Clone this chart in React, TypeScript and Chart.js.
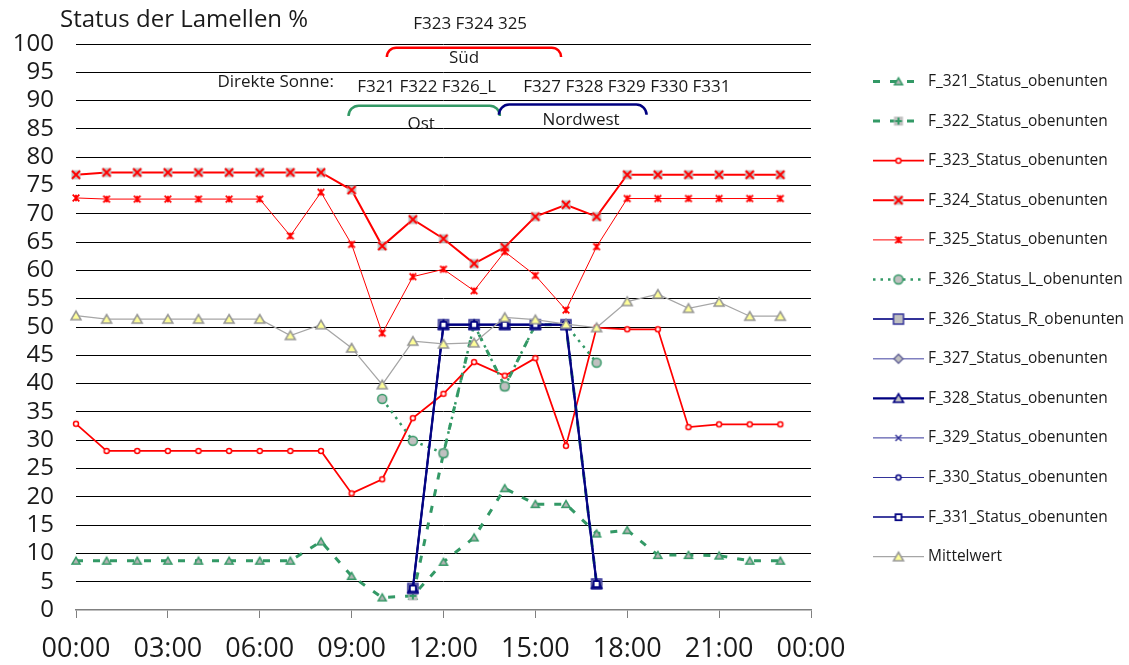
import React, { useEffect, useRef } from 'react';
import { Chart, registerables } from 'chart.js';

Chart.register(...registerables);

const FONT = '"Open Sans", "Noto Sans", Arial, sans-serif';
const TEXT = '#1a1a1a';

// Hour of day for each reading (00:00 … 23:00)
const hours = [0, 1, 2, 3, 4, 5, 6, 7, 8, 9, 10, 11, 12, 13, 14, 15, 16, 17, 18, 19, 20, 21, 22, 23];

// Slat status per façade element, in percent
const f321 = [8.7, 8.7, 8.7, 8.7, 8.7, 8.7, 8.7, 8.7, 12.1, 6.0, 2.2, 2.5, 8.5, 12.8, 21.5, 18.7, 18.7, 13.5, 14.1, 9.7, 9.7, 9.6, 8.7, 8.7];
const f322 = [null, null, null, null, null, null, null, null, null, null, null, 2.5, 27.7, 50.4, 39.5, 50.4, 50.4, 4.6, null, null, null, null, null, null];
const f323 = [32.9, 28.1, 28.1, 28.1, 28.1, 28.1, 28.1, 28.1, 28.1, 20.6, 23.1, 33.9, 38.2, 43.8, 41.4, 44.5, 29.0, 49.9, 49.6, 49.6, 32.3, 32.8, 32.8, 32.8];
const f324 = [76.9, 77.3, 77.3, 77.3, 77.3, 77.3, 77.3, 77.3, 77.3, 74.2, 64.3, 69.0, 65.6, 61.2, 64.1, 69.5, 71.6, 69.5, 76.9, 76.9, 76.9, 76.9, 76.9, 76.9];
const f325 = [72.8, 72.6, 72.6, 72.6, 72.6, 72.6, 72.6, 66.1, 73.8, 64.6, 48.9, 58.9, 60.2, 56.4, 63.3, 59.1, 53.0, 64.2, 72.7, 72.7, 72.7, 72.7, 72.7, 72.7];
const f326L = [null, null, null, null, null, null, null, null, null, null, 37.3, 29.9, 27.7, 50.4, 39.5, 50.4, 50.4, 43.7, null, null, null, null, null, null];
const f326R = [null, null, null, null, null, null, null, null, null, null, null, 3.8, 50.4, 50.4, 50.4, 50.4, 50.4, 4.6, null, null, null, null, null, null];
const f327 = [null, null, null, null, null, null, null, null, null, null, null, 3.8, 50.4, 50.4, 50.4, 50.4, 50.4, 4.6, null, null, null, null, null, null];
const f328 = [null, null, null, null, null, null, null, null, null, null, null, 3.8, 50.4, 50.4, 50.4, 50.4, 50.4, 4.6, null, null, null, null, null, null];
const f329 = [null, null, null, null, null, null, null, null, null, null, null, 3.8, 50.4, 50.4, 50.4, 50.4, 50.4, 4.6, null, null, null, null, null, null];
const f330 = [null, null, null, null, null, null, null, null, null, null, null, 3.8, 50.4, 50.4, 50.4, 50.4, 50.4, 4.6, null, null, null, null, null, null];
const f331 = [null, null, null, null, null, null, null, null, null, null, null, 3.8, 50.4, 50.4, 50.4, 50.4, 50.4, 4.6, null, null, null, null, null, null];
const mittelwert = [52.0, 51.4, 51.4, 51.4, 51.4, 51.4, 51.4, 48.5, 50.4, 46.3, 39.8, 47.5, 47.0, 47.2, 51.7, 51.3, 50.5, 49.9, 54.5, 55.8, 53.3, 54.4, 51.9, 51.9];

const seriesLabels = [
  'F_321_Status_obenunten',
  'F_322_Status_obenunten',
  'F_323_Status_obenunten',
  'F_324_Status_obenunten',
  'F_325_Status_obenunten',
  'F_326_Status_L_obenunten',
  'F_326_Status_R_obenunten',
  'F_327_Status_obenunten',
  'F_328_Status_obenunten',
  'F_329_Status_obenunten',
  'F_330_Status_obenunten',
  'F_331_Status_obenunten',
  'Mittelwert',
];

// Axis ticks
const hourTicks = [0, 3, 6, 9, 12, 15, 18, 21, 24];
const percentTicks = [0, 5, 10, 15, 20, 25, 30, 35, 40, 45, 50, 55, 60, 65, 70, 75, 80, 85, 90, 95, 100];

// Text notes above the curves (hour / percent anchors)
const notes = [
  { text: 'F323 F324 325', h: 12.87, v: 102.6, align: 'center' },
  { text: 'Süd', h: 12.67, v: 96.6, align: 'center' },
  { text: 'Direkte Sonne:', h: 8.42, v: 92.35, align: 'right' },
  { text: 'F321 F322 F326_L', h: 9.18, v: 91.5, align: 'left' },
  { text: 'F327 F328 F329 F330 F331', h: 14.6, v: 91.5, align: 'left' },
  { text: 'Ost', h: 11.27, v: 85.0, align: 'center' },
  { text: 'Nordwest', h: 16.49, v: 85.7, align: 'center' },
];

// Curly group brackets (hour range, percent of top bar and of the bent ends)
const brackets = [
  { from: 10.15, to: 15.84, top: 99.35, end: 97.7, color: '#FF0000' },
  { from: 8.9, to: 13.84, top: 89.1, end: 87.3, color: '#339966' },
  { from: 13.81, to: 18.63, top: 89.3, end: 87.5, color: '#000080' },
];

type MarkerKind = 'triangle' | 'circle' | 'square' | 'diamond' | 'x' | 'asterisk' | 'squarePlus' | 'squareX';
interface Marker { kind: MarkerKind; r: number; fill?: string; stroke: string; lw: number; }

function markerCanvas(m: Marker): HTMLCanvasElement {
  const size = 18;
  const c = document.createElement('canvas');
  c.width = size;
  c.height = size;
  const g = c.getContext('2d')!;
  g.translate(size / 2, size / 2);
  g.lineWidth = m.lw;
  g.strokeStyle = m.stroke;
  g.fillStyle = m.fill || 'rgba(0,0,0,0)';
  const r = m.r;
  g.beginPath();
  switch (m.kind) {
    case 'triangle':
      g.moveTo(0, -r * 0.9);
      g.lineTo(r, r * 0.8);
      g.lineTo(-r, r * 0.8);
      g.closePath();
      g.fill();
      g.stroke();
      break;
    case 'circle':
      g.arc(0, 0, r, 0, Math.PI * 2);
      g.fill();
      g.stroke();
      break;
    case 'square':
      g.rect(-r, -r, 2 * r, 2 * r);
      g.fill();
      g.stroke();
      break;
    case 'diamond':
      g.moveTo(0, -r);
      g.lineTo(r, 0);
      g.lineTo(0, r);
      g.lineTo(-r, 0);
      g.closePath();
      g.fill();
      g.stroke();
      break;
    case 'x':
      g.moveTo(-r, -r); g.lineTo(r, r);
      g.moveTo(r, -r); g.lineTo(-r, r);
      g.stroke();
      break;
    case 'asterisk':
      g.moveTo(-r, -r); g.lineTo(r, r);
      g.moveTo(r, -r); g.lineTo(-r, r);
      g.moveTo(0, -r); g.lineTo(0, r);
      g.stroke();
      break;
    case 'squarePlus':
      g.fillRect(-r, -r, 2 * r, 2 * r);
      g.beginPath();
      g.moveTo(-r + 1, 0); g.lineTo(r - 1, 0);
      g.moveTo(0, -r + 1); g.lineTo(0, r - 1);
      g.stroke();
      break;
    case 'squareX':
      g.fillRect(-r, -r, 2 * r, 2 * r);
      g.beginPath();
      g.moveTo(-r + 0.5, -r + 0.5); g.lineTo(r - 0.5, r - 0.5);
      g.moveTo(r - 0.5, -r + 0.5); g.lineTo(-r + 0.5, r - 0.5);
      g.stroke();
      break;
  }
  return c;
}

interface Style { color: string; width: number; dash?: number[]; marker: Marker; }

const styles: Style[] = [
  { color: '#339966', width: 3, dash: [7, 10], marker: { kind: 'triangle', r: 4, fill: '#B4B4B4', stroke: '#339966', lw: 1.5 } },
  { color: '#339966', width: 3, dash: [7, 10], marker: { kind: 'squarePlus', r: 4.5, fill: '#C0C0C0', stroke: '#339966', lw: 2 } },
  { color: '#FF0000', width: 1.75, marker: { kind: 'circle', r: 2.5, fill: '#FFFFFF', stroke: '#FF0000', lw: 1.5 } },
  { color: '#FF0000', width: 2, marker: { kind: 'squareX', r: 4.5, fill: '#C0C0C0', stroke: '#FF0000', lw: 2 } },
  { color: '#FF0000', width: 1, marker: { kind: 'asterisk', r: 3.3, stroke: '#FF0000', lw: 1.8 } },
  { color: '#339966', width: 2.5, dash: [2.5, 5], marker: { kind: 'circle', r: 4.5, fill: '#C0C0C0', stroke: '#339966', lw: 1.5 } },
  { color: '#333399', width: 2, marker: { kind: 'square', r: 5, fill: '#C0C0C0', stroke: '#333399', lw: 1.5 } },
  { color: '#8080C0', width: 1.5, marker: { kind: 'diamond', r: 4.5, fill: '#C0C0C0', stroke: '#666699', lw: 1.5 } },
  { color: '#000080', width: 2.25, marker: { kind: 'triangle', r: 5, fill: '#C0C0C0', stroke: '#000080', lw: 1.5 } },
  { color: '#333399', width: 1, marker: { kind: 'x', r: 3, stroke: '#333399', lw: 1.5 } },
  { color: '#333399', width: 1, marker: { kind: 'circle', r: 2.5, fill: '#FFFFFF', stroke: '#000080', lw: 1.5 } },
  { color: '#000080', width: 1.5, marker: { kind: 'square', r: 3, fill: '#FFFFFF', stroke: '#000080', lw: 1.75 } },
  { color: '#A6A6A6', width: 1.25, marker: { kind: 'triangle', r: 5, fill: '#FFFF99', stroke: '#969696', lw: 1.5 } },
];

const seriesValues = [f321, f322, f323, f324, f325, f326L, f326R, f327, f328, f329, f330, f331, mittelwert];

const pad2 = (n: number) => (n < 10 ? '0' + n : String(n));

const decorPlugin = {
  id: 'decor',
  afterDraw(chart: any) {
    const { ctx, chartArea, scales } = chart;
    const xs = scales.x;
    const ys = scales.y;
    ctx.save();

    // Title
    ctx.fillStyle = TEXT;
    ctx.font = `24px ${FONT}`;
    ctx.textAlign = 'left';
    ctx.textBaseline = 'alphabetic';
    ctx.fillText('Status der Lamellen %', chartArea.left - 16, chartArea.top - 17);

    // Group brackets
    brackets.forEach((b) => {
      const x1 = xs.getPixelForValue(b.from);
      const x2 = xs.getPixelForValue(b.to);
      const yt = ys.getPixelForValue(b.top);
      const ye = ys.getPixelForValue(b.end);
      const r = Math.max(2, ye - yt);
      ctx.strokeStyle = b.color;
      ctx.lineWidth = 2.5;
      ctx.setLineDash([]);
      ctx.beginPath();
      ctx.moveTo(x1, ye);
      ctx.arcTo(x1, yt, x1 + r, yt, r);
      ctx.lineTo(x2 - r, yt);
      ctx.arcTo(x2, yt, x2, ye, r);
      ctx.lineTo(x2, ye);
      ctx.stroke();
    });

    // Notes
    ctx.fillStyle = TEXT;
    ctx.font = `17px ${FONT}`;
    ctx.textBaseline = 'alphabetic';
    notes.forEach((n) => {
      ctx.textAlign = n.align as CanvasTextAlign;
      ctx.fillText(n.text, xs.getPixelForValue(n.h), ys.getPixelForValue(n.v));
    });

    // Legend on the right
    const x0 = chartArea.right + 62;
    const x1 = x0 + 51;
    const mx = (x0 + x1) / 2;
    chart.data.datasets.forEach((ds: any, i: number) => {
      const y = chartArea.top + 37.5 + i * 39.6;
      ctx.strokeStyle = ds.borderColor;
      ctx.lineWidth = ds.borderWidth;
      ctx.setLineDash(ds.borderDash || []);
      ctx.lineDashOffset = 0;
      ctx.beginPath();
      ctx.moveTo(x0, y);
      ctx.lineTo(x1, y);
      ctx.stroke();
      ctx.setLineDash([]);
      const img = ds.pointStyle as HTMLCanvasElement;
      ctx.drawImage(img, mx - img.width / 2, y - img.height / 2);
      ctx.fillStyle = TEXT;
      ctx.font = `15.5px ${FONT}`;
      ctx.textAlign = 'left';
      ctx.textBaseline = 'middle';
      ctx.fillText(ds.label, x1 + 4, y);
    });
    ctx.restore();
  },
};

export default function App() {
  const canvasRef = useRef<HTMLCanvasElement | null>(null);

  useEffect(() => {
    const canvas = canvasRef.current;
    if (!canvas) return;
    const n = seriesValues.length;
    const datasets = seriesValues.map((vals, i) => {
      const st = styles[i];
      return {
        label: seriesLabels[i],
        data: hours.map((h, k) => ({ x: h, y: vals[k] })),
        borderColor: st.color,
        backgroundColor: st.color,
        borderWidth: st.width,
        borderDash: st.dash || [],
        pointStyle: markerCanvas(st.marker),
        pointRadius: 5,
        tension: 0,
        spanGaps: false,
        clip: 14,
        order: n - i,
      };
    });

    const chart = new Chart(canvas, {
      type: 'line',
      data: { datasets: datasets as any },
      options: {
        responsive: false,
        animation: false,
        events: [],
        layout: { padding: { top: 44, right: 318, left: 0, bottom: 0 } },
        plugins: { legend: { display: false }, tooltip: { enabled: false }, title: { display: false } },
        scales: {
          x: {
            type: 'linear',
            min: 0,
            max: 24,
            afterBuildTicks: (s: any) => { s.ticks = hourTicks.map((v) => ({ value: v })); },
            afterFit: (s: any) => { s.height = 55; },
            ticks: {
              autoSkip: false,
              maxRotation: 0,
              padding: 15,
              color: TEXT,
              font: { family: FONT, size: 27 },
              callback: (v: any) => `${pad2(Number(v) % 24)}:00`,
            },
            grid: { display: true, drawOnChartArea: false, drawTicks: true, tickLength: 8, color: '#808080', lineWidth: 1 },
            border: { display: true, color: '#808080', width: 1.5 },
          },
          y: {
            min: 0,
            max: 100,
            afterBuildTicks: (s: any) => { s.ticks = percentTicks.map((v) => ({ value: v })); },
            afterFit: (s: any) => { s.width = 76; },
            ticks: {
              autoSkip: false,
              padding: 22,
              color: TEXT,
              font: { family: FONT, size: 24 },
            },
            grid: {
              drawTicks: false,
              color: (c: any) => (c.tick && c.tick.value === 0 ? 'rgba(0,0,0,0)' : '#000000'),
              lineWidth: 1,
            },
            border: { display: false },
          },
        },
      },
      plugins: [decorPlugin],
    });

    let alive = true;
    if ((document as any).fonts && (document as any).fonts.ready) {
      (document as any).fonts.ready.then(() => { if (alive) chart.update(); });
    }
    return () => {
      alive = false;
      chart.destroy();
    };
  }, []);

  return (
    <div style={{ position: 'absolute', left: 0, top: 0, width: 1129, height: 665, background: '#fff' }}>
      <canvas ref={canvasRef} width={1129} height={665} style={{ display: 'block' }} />
    </div>
  );
}
